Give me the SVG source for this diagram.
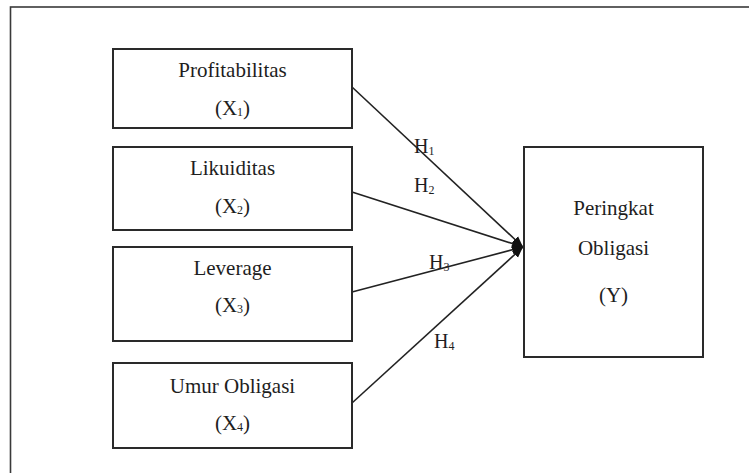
<svg xmlns="http://www.w3.org/2000/svg" width="749" height="473" viewBox="0 0 749 473">
<style>
.box{fill:#fff;stroke:#2a2a2a;stroke-width:2}
.t{font-family:"Liberation Serif","Times New Roman",Times,serif;font-size:21px;fill:#1e1e1e;text-anchor:middle}
.h{font-family:"Liberation Serif","Times New Roman",Times,serif;font-size:20px;fill:#1e1e1e}
.sub{font-size:12px}
.c{stroke:#222;stroke-width:1.6;fill:none;marker-end:url(#ah)}
</style>
<defs>
<marker id="ah" markerUnits="userSpaceOnUse" markerWidth="12" markerHeight="12" viewBox="0 0 12 12" refX="11" refY="6" orient="auto">
<path d="M0,1.5 L11,6 L0,10.5 Z" fill="#111"/>
</marker>
</defs>
<rect width="749" height="473" fill="#fff"/>
<rect x="10.5" y="7" width="760" height="480" fill="none" stroke="#3a3a3a" stroke-width="1.6"/>
<g id="connectors">
<line class="c" x1="352" y1="87" x2="523" y2="247"/>
<line class="c" x1="352" y1="192" x2="523" y2="247"/>
<line class="c" x1="352" y1="292" x2="523" y2="247"/>
<line class="c" x1="352" y1="403" x2="523" y2="247"/>
<text class="h" x="414" y="153">H<tspan class="sub" dy="2">1</tspan></text>
<text class="h" x="414" y="192">H<tspan class="sub" dy="2">2</tspan></text>
<text class="h" x="429" y="269">H<tspan class="sub" dy="2">3</tspan></text>
<text class="h" x="434" y="348">H<tspan class="sub" dy="2">4</tspan></text>
</g>
<g id="x1">
<rect class="box" x="113" y="49" width="239" height="79"/>
<text class="t" x="232.5" y="77">Profitabilitas</text>
<text class="t" x="232.5" y="115">(X<tspan class="sub" dy="1">1</tspan><tspan dy="-1">)</tspan></text>
</g>
<g id="x2">
<rect class="box" x="113" y="147" width="239" height="83"/>
<text class="t" x="232.5" y="175">Likuiditas</text>
<text class="t" x="232.5" y="213">(X<tspan class="sub" dy="1">2</tspan><tspan dy="-1">)</tspan></text>
</g>
<g id="x3">
<rect class="box" x="113" y="247" width="239" height="94"/>
<text class="t" x="232.5" y="275">Leverage</text>
<text class="t" x="232.5" y="312">(X<tspan class="sub" dy="1">3</tspan><tspan dy="-1">)</tspan></text>
</g>
<g id="x4">
<rect class="box" x="113" y="363" width="239" height="85"/>
<text class="t" x="232.5" y="393">Umur Obligasi</text>
<text class="t" x="232.5" y="430">(X<tspan class="sub" dy="1">4</tspan><tspan dy="-1">)</tspan></text>
</g>
<g id="y">
<rect class="box" x="524" y="147" width="179" height="210"/>
<text class="t" x="613.5" y="215">Peringkat</text>
<text class="t" x="613.5" y="255">Obligasi</text>
<text class="t" x="613.5" y="302">(Y)</text>
</g>
</svg>
